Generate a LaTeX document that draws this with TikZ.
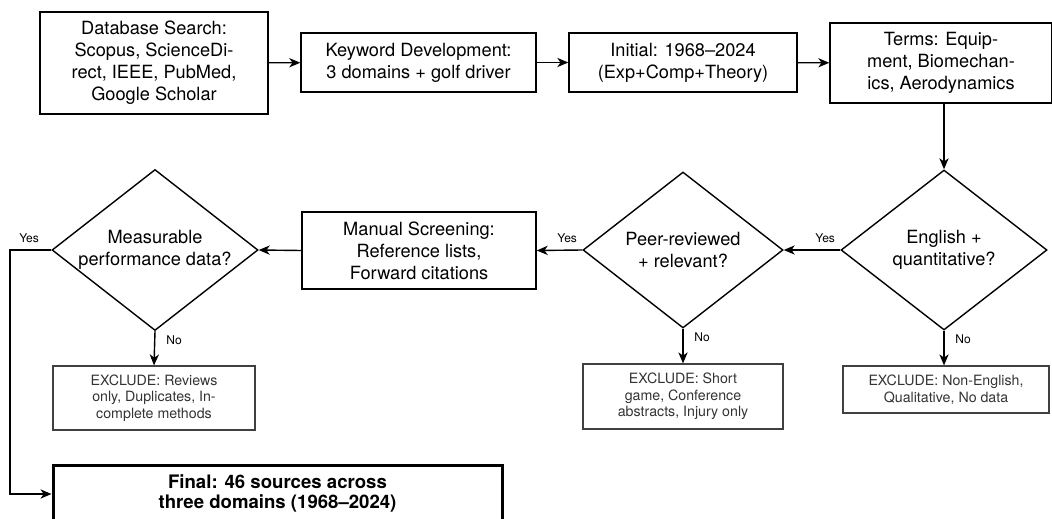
\documentclass[tikz,border=0pt]{standalone}
\usepackage{fontspec}
\setmainfont{TeX Gyre Heros}
\usetikzlibrary{shapes.geometric,arrows.meta}
\tikzset{
  box/.style={draw=black, line width=0.7pt, align=center, inner sep=0pt,
    font=\fontsize{9.1}{11}\selectfont},
  exbox/.style={draw=black!75, line width=0.6pt, align=center, inner sep=0pt,
    text=black!80, font=\fontsize{7.1}{8.3}\selectfont},
  finalbox/.style={draw=black, line width=1.5pt, align=center, inner sep=0pt,
    font=\fontsize{9.3}{10}\selectfont\bfseries},
  dia/.style={draw=black, line width=0.7pt, diamond, inner sep=0pt},
  dtext/.style={align=center, inner sep=0pt, font=\fontsize{9.1}{11}\selectfont},
  lbl/.style={inner sep=0pt, font=\fontsize{6}{7}\selectfont},
  arr/.style={line width=0.7pt, -{Stealth[length=5.5pt, width=4.6pt, inset=1.6pt]}},
  ln/.style={line width=0.7pt}
}
\begin{document}
\begin{tikzpicture}[x=0.5pt, y=-0.5pt]
\useasboundingbox (0,0) rectangle (1052,518);
\clip (0,0) rectangle (1052,518);
% top row
\node[box, minimum width=114pt, minimum height=51pt] (db) at (154,63)
  {Database Search:\\Scopus, ScienceDi-\\rect, IEEE, PubMed,\\Google Scholar};
\node[box, minimum width=117.5pt, minimum height=29.5pt] (kw) at (418.5,62.5)
  {Keyword Development:\\3 domains + golf driver};
\node[box, minimum width=114pt, minimum height=29.5pt] (init) at (683,62.5)
  {Initial:  1968--2024\\(Exp+Comp+Theory)};
\node[box, minimum width=111pt, minimum height=40pt] (terms) at (941,63)
  {Terms:  Equip-\\ment, Biomechan-\\ics, Aerodynamics};
% diamonds
\node[dia, minimum width=103pt, minimum height=80pt] (eng) at (944,250) {};
\node[dtext] (engt) at (eng) {English +\\quantitative?};
\node[dia, minimum width=100pt, minimum height=78pt] (peer) at (683,250) {};
\node[dtext] (peert) at (peer) {Peer-reviewed\\+ relevant?};
\node[box, minimum width=117pt, minimum height=38.5pt] (man) at (419,250.5)
  {Manual Screening:\\Reference lists,\\Forward citations};
\node[dia, minimum width=103pt, minimum height=80.5pt] (meas) at (155,250) {};
\node[dtext] (meast) at (meas) {Measurable\\performance data?};
% exclusions
\node[exbox, minimum width=101pt, minimum height=32pt] (ex1) at (154,398)
  {EXCLUDE: Reviews\\only, Duplicates, In-\\complete methods};
\node[exbox, minimum width=100pt, minimum height=32.5pt] (ex2) at (683,396.5)
  {EXCLUDE: Short\\game, Conference\\abstracts, Injury only};
\node[exbox, minimum width=103pt, minimum height=23.5pt] (ex3) at (946,389.5)
  {EXCLUDE: Non-English,\\Qualitative, No data};
% final
\node[finalbox, minimum width=224.5pt, minimum height=28pt] (fin) at (277.5,493)
  {Final:  46 sources across\\three domains (1968--2024)};
\coordinate (c1) at (10,250);
\coordinate (c2) at (10,494);
% connectors
\draw[arr] (db) -- (kw);
\draw[arr] (kw) -- (init);
\draw[arr] (init) -- (terms);
\draw[arr] (eng.north |- terms.south) -- (eng.north);
\draw[arr] (eng.west) -- (peer.east);
\draw[arr] (peer.west) -- (man.east);
\draw[arr] (man.west) -- (meas.east);
\draw[arr] (meas.south) -- (ex1.north);
\draw[arr] (peer.south) -- (ex2.north);
\draw[arr] (eng.south) -- (ex3.north -| eng.south);
\draw[arr] (meas.west) -- (c1) -- (c2) -- (c2 -| fin.west);
% labels
\node[lbl, anchor=south east] (y1) at ([xshift=-2.5pt, yshift=3.5pt]eng.west) {Yes};
\node[lbl, anchor=south east] (y2) at ([xshift=-2.5pt, yshift=3.5pt]peer.west) {Yes};
\node[lbl, anchor=south east] (y3) at ([xshift=-6pt, yshift=3.5pt]meas.west) {Yes};
\node[lbl, anchor=north west] (n1) at ([xshift=5.5pt, yshift=-2pt]meas.south) {No};
\node[lbl, anchor=north west] (n2) at ([xshift=5.5pt, yshift=-2pt]peer.south) {No};
\node[lbl, anchor=north west] (n3) at ([xshift=5.5pt, yshift=-2pt]eng.south) {No};
\end{tikzpicture}
\end{document}
